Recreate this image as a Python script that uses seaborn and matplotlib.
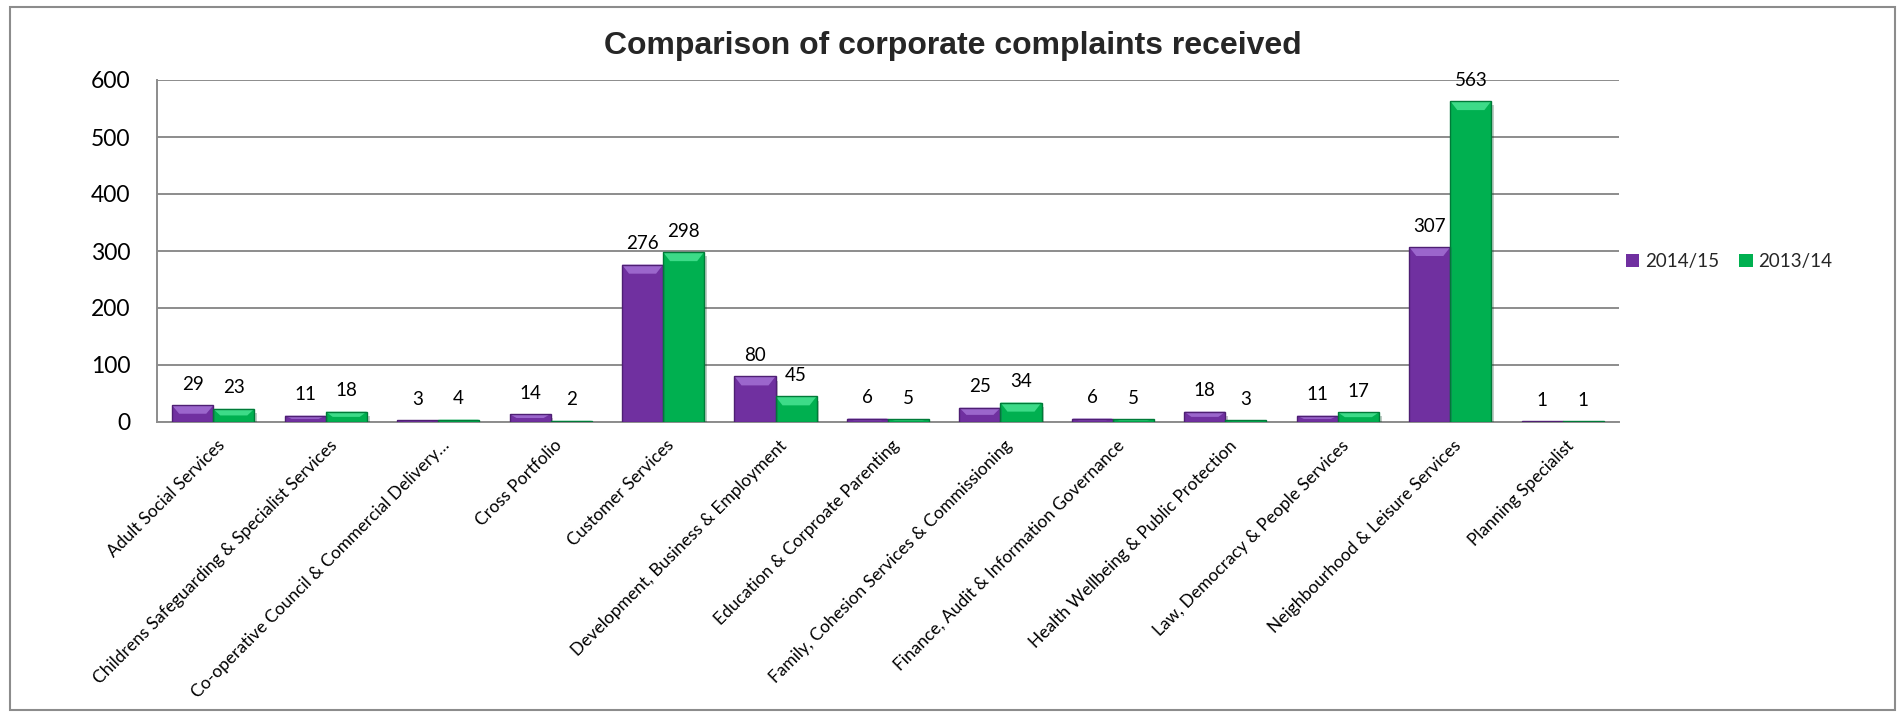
import matplotlib
matplotlib.use("Agg")
import matplotlib.pyplot as plt
import matplotlib.patheffects as pe
from matplotlib.patches import Polygon, Rectangle
import matplotlib.transforms as mtrans
import seaborn as sns
import pandas as pd

categories = [
    "Adult Social Services",
    "Childrens Safeguarding & Specialist Services",
    "Co-operative Council & Commercial Delivery…",
    "Cross Portfolio",
    "Customer Services",
    "Development, Business & Employment",
    "Education & Corproate Parenting",
    "Family, Cohesion Services & Commissioning",
    "Finance, Audit & Information Governance",
    "Health Wellbeing & Public Protection",
    "Law, Democracy & People Services",
    "Neighbourhood & Leisure Services",
    "Planning Specialist",
]
series_names = ["2014/15", "2013/14"]
values_2014_15 = [29, 11, 3, 14, 276, 80, 6, 25, 6, 18, 11, 307, 1]
values_2013_14 = [23, 18, 4, 2, 298, 45, 5, 34, 5, 3, 17, 563, 1]
y_ticks = [0, 100, 200, 300, 400, 500, 600]
title = "Comparison of corporate complaints received"

df = pd.DataFrame({
    "Category": categories * 2,
    "Year": [series_names[0]] * len(categories) + [series_names[1]] * len(categories),
    "Complaints": values_2014_15 + values_2013_14,
})

sns.set_theme(style="white")
plt.rcParams["font.family"] = ["Lato", "DejaVu Sans"]

W, H = 1901, 712
fig = plt.figure(figsize=(W / 100, H / 100), dpi=100)
ax = fig.add_axes([157 / W, 1 - 422 / H, (1619 - 157) / W, (422 - 80) / H])

colors = {"2014/15": "#7030A0", "2013/14": "#00B050"}
light = {"2014/15": "#9B66CC", "2013/14": "#3DDB88"}
dark = {"2014/15": "#4E1F73", "2013/14": "#007A38"}

sns.barplot(data=df, x="Category", y="Complaints", hue="Year", hue_order=series_names,
            order=categories, palette=colors, width=0.73, ax=ax, legend=True,
            saturation=1, edgecolor="none", linewidth=0, zorder=3)

ax.set_ylim(0, 600)
ax.set_xlim(-0.5, len(categories) - 0.5)
ax.set_yticks(y_ticks)
ax.set_yticklabels([str(t) for t in y_ticks], fontsize=16.5, color="#000000")
ax.grid(axis="y", color="#8c8c8c", linewidth=1.4, zorder=0)
ax.grid(axis="x", visible=False)
for s in ["top", "right"]:
    ax.spines[s].set_visible(False)
for s in ["left", "bottom"]:
    ax.spines[s].set_color("#8c8c8c")
    ax.spines[s].set_linewidth(1.4)
ax.tick_params(axis="both", length=0)
ax.tick_params(axis="y", pad=19)
ax.set_xlabel("")
ax.set_ylabel("")

# bevel look on each bar, built from the bars that seaborn drew
px_y = 600 / 342.0
px_x = 1.0 / 112.5
for ci, cont in enumerate(ax.containers):
    name = series_names[ci]
    for bar in cont:
        x, y0 = bar.get_x(), bar.get_y()
        w, h = bar.get_width(), bar.get_height()
        if h <= 0:
            continue
        bar.set_path_effects([pe.SimplePatchShadow(offset=(2, -3), alpha=0.25), pe.Normal()])
        cap = min(9 * px_y, h * 0.5)
        d = min(7 * px_x, w * 0.3)
        top = y0 + h
        ax.add_patch(Polygon([(x, top), (x + w, top), (x + w - d, top - cap), (x + d, top - cap)],
                             closed=True, facecolor=light[name], edgecolor="none", zorder=4))
        ax.add_patch(Rectangle((x, y0), w, h, facecolor="none", edgecolor=dark[name],
                               linewidth=1.0, zorder=5))
    ax.bar_label(cont, labels=[str(v) for v in (values_2014_15 if ci == 0 else values_2013_14)],
                 padding=9, fontsize=13.5, color="#000000")

ax.tick_params(axis="x", pad=11)
offset = mtrans.ScaledTranslation(3 / 100, 0, fig.dpi_scale_trans)
for lbl in ax.get_xticklabels():
    lbl.set_rotation(45)
    lbl.set_ha("right")
    lbl.set_va("top")
    lbl.set_rotation_mode("anchor")
    lbl.set_fontsize(12.5)
    lbl.set_color("#000000")
    lbl.set_transform(lbl.get_transform() + offset)

handles, labels = ax.get_legend_handles_labels()
ax.legend(handles, labels, loc="center left", bbox_to_anchor=(1609 / W, 1 - 262 / H),
          bbox_transform=fig.transFigure, ncol=2, frameon=False, fontsize=13.5,
          handlelength=0.7, handleheight=0.7, handletextpad=0.3, columnspacing=1.1)

fig.text(953 / W, 1 - 46 / H, title, ha="center", va="center", fontsize=23,
         fontweight="bold", family=["Liberation Sans", "DejaVu Sans"])

fig.patches.append(Rectangle((10 / W, 1 - 710 / H), (1895 - 10) / W, (710 - 7) / H,
                             transform=fig.transFigure, facecolor="none",
                             edgecolor="#8c8c8c", linewidth=1.5))

fig.savefig("out.png", dpi=100)
